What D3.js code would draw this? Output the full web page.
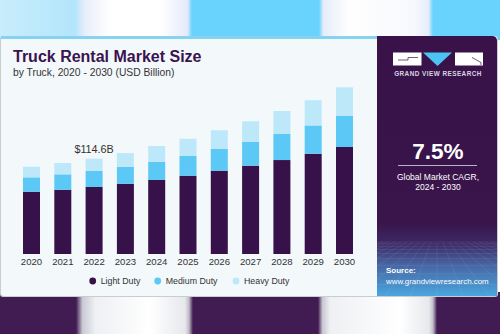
<!DOCTYPE html>
<html>
<head>
<meta charset="utf-8">
<script src="https://cdn.jsdelivr.net/npm/d3@7"></script>
<style>
  html, body { margin: 0; padding: 0; background: #fff; }
  svg { display: block; font-family: "Liberation Sans", Arial, sans-serif; }
</style>
</head>
<body>
<svg id="chart" width="500" height="334"></svg>
<script>
const years = ["2020","2021","2022","2023","2024","2025","2026","2027","2028","2029","2030"];
const lightDuty  = [74.9, 77.3, 80.6, 84.5, 89.0, 94.2, 100.2, 106.2, 113.0, 120.6, 128.7];
const mediumDuty = [17.3, 18.5, 19.2, 20.4, 22.0, 24.0, 26.1, 28.5, 31.3, 34.0, 37.6];
const heavyDuty  = [12.7, 13.6, 14.8, 16.5, 18.9, 20.4, 22.5, 24.9, 27.7, 30.4, 34.2];
const seriesNames = ["Light Duty", "Medium Duty", "Heavy Duty"];
const seriesColors = ["#37124a", "#5bc8f5", "#bde8fa"];
const annotationYear = "2022";
const annotationText = "$114.6B";
const title = "Truck Rental Market Size";
const subtitle = "by Truck, 2020 - 2030 (USD Billion)";
const cagrValue = "7.5%";
const cagrLines = ["Global Market CAGR,", "2024 - 2030"];

const svg = d3.select("#chart");
const defs = svg.append("defs");

// ---- background bands ----
const topGrad = defs.append("linearGradient").attr("id","topGrad").attr("x1",0).attr("x2",1).attr("y1",0).attr("y2",0);
[[0,"#c8edfc"],[0.15,"#b3e5fb"],[0.17,"#e9eefb"],[0.22,"#ffffff"],[0.32,"#ffffff"],[0.375,"#e4eafa"],[0.384,"#6ad3fd"],[0.638,"#6ad3fd"],[0.647,"#e6edfa"],[0.7,"#ffffff"],[0.83,"#f6f8fd"],[0.857,"#e6ecfa"],[0.866,"#6ad3fd"],[1,"#6ad3fd"]]
  .forEach(([o,c]) => topGrad.append("stop").attr("offset",o).attr("stop-color",c));
svg.append("rect").attr("x",0).attr("y",0).attr("width",500).attr("height",40).attr("fill","url(#topGrad)");

const botGrad = defs.append("linearGradient").attr("id","botGrad").attr("x1",0).attr("x2",1).attr("y1",0).attr("y2",0);
[[0,"#401c52"],[0.152,"#401c52"],[0.165,"#c9c9d3"],[0.19,"#eef0f3"],[0.3,"#ffffff"],[0.37,"#e6e8ec"],[0.378,"#c0bcc8"],[0.386,"#401c52"],[0.636,"#401c52"],[0.645,"#c8c6d0"],[0.66,"#eef0f3"],[0.8,"#ffffff"],[0.858,"#e6e8ec"],[0.866,"#c0bcc8"],[0.874,"#401c52"],[1,"#401c52"]]
  .forEach(([o,c]) => botGrad.append("stop").attr("offset",o).attr("stop-color",c));
svg.append("rect").attr("x",0).attr("y",292).attr("width",500).attr("height",42).attr("fill","url(#botGrad)");

// ---- card ----
svg.append("rect").attr("x",0).attr("y",36).attr("width",498).attr("height",261)
  .attr("rx",3).attr("fill","#c9cdd2");
svg.append("rect").attr("x",1).attr("y",36).attr("width",496).attr("height",260)
  .attr("rx",3).attr("fill","#f3f8fb");
svg.append("rect").attr("x",1).attr("y",36).attr("width",380).attr("height",3).attr("fill","#86d2f1");

// ---- right panel ----
const panelGrad = defs.append("linearGradient").attr("id","panelGrad").attr("x1",0).attr("x2",0).attr("y1",0).attr("y2",1);
[[0,"#381248"],[0.72,"#39154b"],[0.8,"#3d2a66"],[0.88,"#4665a2"],[1,"#4aa6df"]]
  .forEach(([o,c]) => panelGrad.append("stop").attr("offset",o).attr("stop-color",c));
const panelX = 377, panelY = 36, panelW = 120, panelH = 260;
svg.append("path")
  .attr("d", `M${panelX},${panelY} H${panelX+panelW-5} Q${panelX+panelW},${panelY} ${panelX+panelW},${panelY+5} V${panelY+panelH} H${panelX} Z`)
  .attr("fill","url(#panelGrad)");

// mesh grid in lower panel
const mesh = svg.append("g").attr("stroke","#ffffff").attr("stroke-opacity",0.13).attr("stroke-width",0.6);
const horizon = 238, vpX = panelX + panelW/2;
let hy = horizon + 4, gap = 1.5;
while (hy < panelY + panelH) {
  mesh.append("line").attr("x1",panelX).attr("x2",panelX+panelW).attr("y1",hy).attr("y2",hy);
  gap *= 1.28; hy += gap;
}
for (let k = -14; k <= 14; k++) {
  mesh.append("line").attr("x1",vpX + k*6).attr("y1",horizon+4)
    .attr("x2",vpX + k*26).attr("y2",panelY+panelH);
}
mesh.attr("clip-path","url(#panelClip)");
defs.append("clipPath").attr("id","panelClip").append("rect")
  .attr("x",panelX).attr("y",horizon).attr("width",panelW).attr("height",panelY+panelH-horizon);

// logo
const logo = svg.append("g");
logo.append("rect").attr("x",393).attr("y",52.5).attr("width",28.5).attr("height",13).attr("fill","#ffffff");
logo.append("path").attr("d","M423,52.5 L452,52.5 L437.5,66 Z").attr("fill","#4cc3f3");
logo.append("rect").attr("x",455).attr("y",52.5).attr("width",28).attr("height",13).attr("fill","#ffffff");
logo.append("path").attr("d","M398,60 H408 V57.5 H418").attr("fill","none").attr("stroke","#381248").attr("stroke-width",0.7);
logo.append("path").attr("d","M472,57.5 L481,62.5 V65").attr("fill","none").attr("stroke","#381248").attr("stroke-width",0.7);
logo.append("text").attr("x",438).attr("y",75.5).attr("text-anchor","middle")
  .attr("font-size",6.4).attr("font-weight","bold").attr("letter-spacing",0.45)
  .attr("fill","#d9d3e0").text("GRAND VIEW RESEARCH");

// CAGR
svg.append("text").attr("x",438).attr("y",159).attr("text-anchor","middle")
  .attr("font-size",22.5).attr("font-weight","bold").attr("fill","#ffffff").text(cagrValue);
svg.append("line").attr("x1",398).attr("x2",477).attr("y1",165.5).attr("y2",165.5)
  .attr("stroke","#ffffff").attr("stroke-width",0.8).attr("stroke-opacity",0.85);
cagrLines.forEach((t,i) => svg.append("text").attr("x",438).attr("y",180 + i*9.8)
  .attr("text-anchor","middle").attr("font-size",8.5).attr("fill","#ffffff").text(t));

// Source
svg.append("text").attr("x",386).attr("y",273).attr("font-size",8).attr("font-weight","bold")
  .attr("fill","#ffffff").text("Source:");
svg.append("text").attr("x",386).attr("y",284).attr("font-size",7.9)
  .attr("fill","#ffffff").text("www.grandviewresearch.com");

// ---- titles ----
svg.append("text").attr("x",13).attr("y",62).attr("font-size",16).attr("font-weight","bold")
  .attr("fill","#3a1350").text(title);
svg.append("text").attr("x",13).attr("y",76).attr("font-size",10.3)
  .attr("fill","#333333").text(subtitle);

// ---- bars ----
const data = years.map((y,i) => ({year:y, "Light Duty":lightDuty[i], "Medium Duty":mediumDuty[i], "Heavy Duty":heavyDuty[i]}));
const stack = d3.stack().keys(seriesNames)(data);

const x = d3.scaleBand().domain(years).range([8.7, 367.3]).paddingInner(0.457).paddingOuter(0.457);
const y = d3.scaleLinear().domain([0, 200]).range([254, 87.7]);
const color = d3.scaleOrdinal().domain(seriesNames).range(seriesColors);

svg.append("g").selectAll("g").data(stack).join("g")
  .attr("fill", d => color(d.key))
  .selectAll("rect").data(d => d).join("rect")
  .attr("x", d => x(d.data.year))
  .attr("y", d => y(d[1]))
  .attr("width", x.bandwidth())
  .attr("height", d => y(d[0]) - y(d[1]));

// x axis labels
const xAxis = d3.axisBottom(x).tickSize(0).tickPadding(4);
const ax = svg.append("g").attr("transform","translate(0,254)").call(xAxis);
ax.select(".domain").remove();
ax.selectAll("text").attr("font-size",9.6).attr("fill","#333333")
  .attr("font-family",'"Liberation Sans", Arial, sans-serif');

// annotation
const annIdx = years.indexOf(annotationYear);
const annTotal = lightDuty[annIdx] + mediumDuty[annIdx] + heavyDuty[annIdx];
svg.append("text").attr("x", x(annotationYear) + x.bandwidth()/2).attr("y", y(annTotal) - 6)
  .attr("text-anchor","middle").attr("font-size",10.8).attr("fill","#333333").text(annotationText);

// legend
const legendX = [92.7, 157.7, 236];
const lg = svg.append("g").selectAll("g").data(seriesNames).join("g")
  .attr("transform", (d,i) => `translate(${legendX[i]},281)`);
lg.append("circle").attr("r",3.4).attr("fill", d => color(d));
lg.append("text").attr("x",8).attr("y",3.2).attr("font-size",8.8).attr("fill","#333333").text(d => d);
</script>
</body>
</html>
